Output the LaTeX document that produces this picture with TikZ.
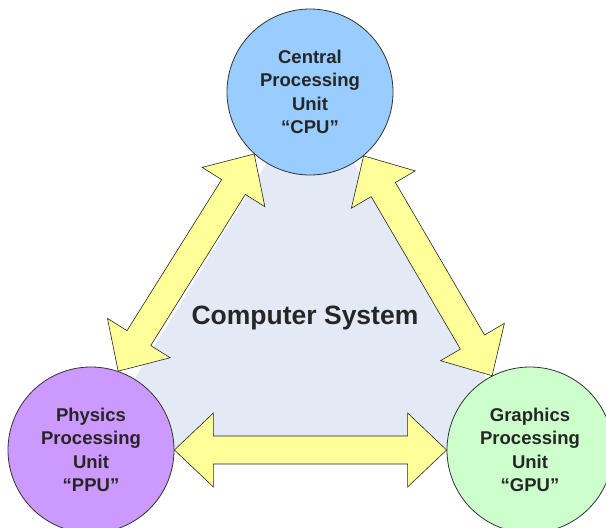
\documentclass[tikz,border=0pt]{standalone}
\usepackage{fontspec}
\setmainfont{Liberation Sans}
\usetikzlibrary{calc}

\definecolor{cpublue}{HTML}{99CCFF}
\definecolor{ppupurple}{HTML}{CC99FF}
\definecolor{gpugreen}{HTML}{CCFFCC}
\definecolor{arrowyellow}{HTML}{FFFF99}
\definecolor{systembg}{HTML}{E4EAF5}

\tikzset{
  unit/.style={circle, draw=black!80, line width=0.8pt, minimum size=166pt,
    inner sep=0pt, align=center, text=black!85,
    font=\bfseries\fontsize{18.5}{23.5}\selectfont},
  fatarrow/.style={draw=black!85, line width=0.6pt, fill=arrowyellow, line join=miter},
}

% double headed block arrow between two points
\def\headlen{39pt}
\def\headhalf{37pt}
\def\shafthalf{14pt}
\newcommand\biarrow[2]{%
  \draw[fatarrow] (#1)
    -- ($(#1)!\headlen!(#2)!\headhalf!90:(#2)$)
    -- ($(#1)!\headlen!(#2)!\shafthalf!90:(#2)$)
    -- ($(#2)!\headlen!(#1)!\shafthalf!-90:(#1)$)
    -- ($(#2)!\headlen!(#1)!\headhalf!-90:(#1)$)
    -- (#2)
    -- ($(#2)!\headlen!(#1)!\headhalf!90:(#1)$)
    -- ($(#2)!\headlen!(#1)!\shafthalf!90:(#1)$)
    -- ($(#1)!\headlen!(#2)!\shafthalf!-90:(#2)$)
    -- ($(#1)!\headlen!(#2)!\headhalf!-90:(#2)$)
    -- cycle;}

\begin{document}
\begin{tikzpicture}[x=1pt, y=-1pt]
    \useasboundingbox (0,0) rectangle (606,528);

    % Centres of the three units
    \coordinate (cpuc) at (310,92);
    \coordinate (ppuc) at (91,450);
    \coordinate (gpuc) at (530,450);

    % System area behind everything
    \fill[systembg] (cpuc) -- (ppuc) -- (gpuc) -- cycle;
    \node[font=\bfseries\fontsize{26.5}{30}\selectfont, text=black!85] (system) at (305,318) {Computer System};

    % Processing units
    \node[unit, fill=cpublue] (cpu) at (cpuc) {Central\\Processing\\Unit\\“CPU”};
    \node[unit, fill=ppupurple] (ppu) at (ppuc) {Physics\\Processing\\Unit\\“PPU”};
    \node[unit, fill=gpugreen] (gpu) at (gpuc) {Graphics\\Processing\\Unit\\“GPU”};

    % Links between the units
    \biarrow{cpu.-132.5}{ppu.71}
    \biarrow{cpu.-50}{gpu.117}
    \biarrow{ppu.0}{gpu.180}
\end{tikzpicture}
\end{document}
